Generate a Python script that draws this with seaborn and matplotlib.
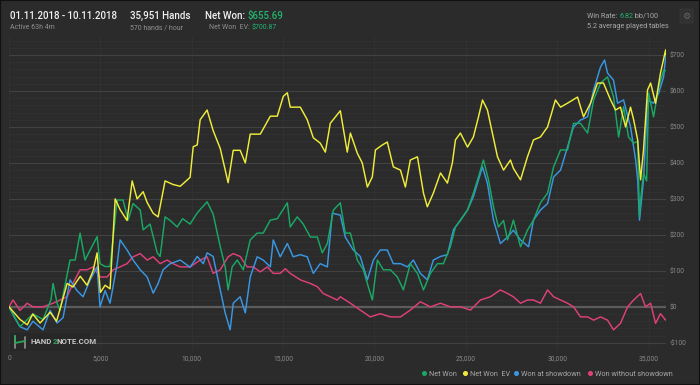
import matplotlib
matplotlib.use("Agg")
import matplotlib.pyplot as plt
import seaborn as sns
import pandas as pd
from matplotlib.ticker import FuncFormatter, MultipleLocator
from matplotlib.patches import Rectangle, FancyBboxPatch
from matplotlib.lines import Line2D
from matplotlib.text import Annotation

# ---------------- data ----------------
net_won_x = [0, 600, 1310, 1860, 2300, 2410, 2630, 2790, 3340, 3620, 3890, 4160, 4440, 4820, 4980, 5260,
             5530, 5920, 6240, 6520, 6790, 7180, 7340, 7720, 8110, 8270, 8540, 8820, 9200, 9500, 9910, 10300,
             10840, 11170, 11560, 11830, 11990, 12210, 12490, 12820, 13200, 13580, 13910, 14300, 14680, 15230,
             15390, 15770, 16100, 16490, 16870, 17140, 17420, 17750, 18130, 18400, 18680, 19060, 19390, 19660,
             19880, 20160, 20480, 20870, 21250, 21580, 21960, 22350, 22680, 23060, 23440, 23770, 24150, 24430,
             24700, 25090, 25410, 25690, 25960, 26240, 26510, 26780, 27060, 27280, 27600, 27990, 28370, 28700,
             29080, 29470, 29800, 30180, 30560, 30890, 31270, 31660, 31990, 32370, 32750, 33080, 33360, 33630,
             33900, 34180, 34400, 34500, 34560, 34720, 34890, 35000, 35270, 35550, 35820, 35951]
net_won_y = [0, -55, -20, -35, 20, 65, 10, -10, 130, 130, 205, 130, 158, 195, 120, 112,
             112, 297, 297, 241, 287, 269, 214, 230, 150, 140, 250, 240, 222, 245, 230, 261,
             292, 258, 167, 111, 47, 111, 130, 103, 186, 205, 205, 241, 245, 289,
             222, 250, 230, 194, 194, 150, 176, 269, 289, 205, 205, 130, 103, 56,
             19, 130, 103, 103, 83, 47, 120, 93, 47, 93, 120, 120, 167, 222,
             240, 269, 316, 361, 408, 353, 278, 222, 240, 186, 241, 167, 213, 241,
             289, 316, 389, 436, 436, 510, 510, 483, 575, 622, 639, 583, 472, 556,
             472, 455, 460, 250, 297, 372, 350, 594, 528, 611, 658, 656]

ev_x = [0, 600, 1000, 1300, 1700, 2250, 2600, 2800, 3180, 3500, 3900, 4270, 4600, 4820, 5000, 5260, 5530,
        5810, 6080, 6460, 6740, 7010, 7340, 7560, 7890, 8160, 8540, 8980, 9370, 9910, 10080, 10300, 10460,
        10840, 11170, 11560, 11990, 12270, 12650, 12930, 13200, 13750, 14300, 14680, 15010, 15230, 15390,
        15940, 16320, 16650, 17030, 17310, 17580, 18130, 18510, 18680, 19060, 19330, 19610, 19880, 20050,
        20430, 20700, 21030, 21420, 21690, 21960, 22350, 22680, 22890, 23220, 23610, 23990, 24260, 24430,
        24700, 25090, 25410, 25690, 25910, 26180, 26450, 26730, 27060, 27440, 27600, 27990, 28370, 28700,
        29080, 29470, 29900, 30180, 30560, 31110, 31440, 31820, 32200, 32530, 32920, 33190, 33460, 33740,
        34010, 34180, 34400, 34560, 34720, 34940, 35110, 35380, 35650, 35930, 35951]
ev_y = [0, -35, -50, -20, -45, -15, -40, -5, 65, 55, 85, 60, 100, 150, 40, 60, 50,
        300, 270, 240, 350, 300, 320, 290, 260, 250, 350, 340, 335, 360, 445, 450, 520,
        547, 490, 440, 345, 435, 435, 400, 480, 480, 530, 530, 585, 595, 555,
        555, 520, 470, 455, 430, 510, 545, 430, 483, 427, 400, 333, 361, 436,
        450, 458, 389, 380, 333, 408, 417, 316, 278, 316, 372, 344, 400, 464,
        483, 444, 472, 528, 575, 547, 483, 417, 380, 408, 385, 353, 417, 464,
        472, 500, 575, 555, 566, 583, 528, 566, 622, 622, 575, 547, 555, 500,
        555, 520, 464, 353, 436, 603, 622, 566, 650, 714, 700]

sd_x = [0, 300, 600, 990, 1310, 1860, 2250, 2630, 2960, 3340, 3720, 4050, 4440, 4820, 4980, 5260, 5530,
        5920, 6080, 6460, 6790, 7180, 7560, 7890, 8160, 8430, 8820, 9370, 9910, 10300, 10630, 10840, 11170,
        11560, 11830, 12100, 12270, 12650, 12930, 13200, 13580, 13910, 14300, 14460, 14840, 15230, 15550,
        15940, 16320, 16650, 17030, 17420, 17690, 18130, 18400, 18840, 19220, 19610, 19940, 20320, 20700,
        21030, 21420, 21800, 22130, 22510, 22890, 23220, 23610, 23990, 24320, 24700, 25090, 25410, 25690,
        25910, 26180, 26510, 26890, 27280, 27600, 27990, 28430, 28700, 29080, 29470, 29800, 30180, 30560,
        30890, 31270, 31660, 31990, 32370, 32590, 32750, 33080, 33300, 33630, 34010, 34290, 34400, 34500,
        34720, 34940, 35270, 35550, 35820, 35951]
sd_y = [0, -30, -55, -64, -40, -64, -10, -45, -30, 75, 45, 28, 75, 111, 0, 45, 10,
        120, 186, 158, 130, 103, 83, 38, 65, 103, 120, 130, 110, 140, 120, 150, 140,
        47, -17, -64, 10, 28, -17, 83, 139, 130, 111, 186, 139, 176, 139,
        145, 139, 93, 120, 111, 260, 255, 194, 158, 140, 75, 130, 158, 158,
        120, 120, 111, 130, 93, 75, 130, 140, 145, 214, 241, 269, 306, 353,
        389, 343, 241, 176, 194, 213, 186, 167, 241, 269, 287, 361, 380, 444,
        500, 519, 528, 603, 667, 686, 650, 630, 566, 575, 500, 408, 353, 241,
        353, 575, 566, 594, 639, 705]

nsd_x = [0, 220, 600, 990, 1310, 1860, 2410, 2790, 3180, 3500, 3890, 4270, 4600, 4980, 5370, 5700, 6080,
         6460, 6790, 7180, 7560, 7890, 8270, 8650, 8980, 9370, 9910, 10460, 10840, 11170, 11560, 11990,
         12270, 12650, 13030, 13360, 13750, 14130, 14460, 14840, 15120, 15390, 15940, 16490, 16870, 17200,
         17580, 17960, 18130, 18680, 19220, 19770, 20320, 20870, 21420, 21960, 22510, 23060, 23610, 24150,
         24700, 25250, 25800, 26340, 26890, 27280, 27600, 27990, 28370, 28700, 29080, 29470, 29800, 30180,
         30560, 30890, 31270, 31660, 31990, 32370, 32750, 33080, 33460, 33850, 34180, 34560, 34830, 35110,
         35380, 35650, 35930, 35951]
nsd_y = [0, 19, -10, 10, 0, 0, 10, 19, 28, 65, 103, 103, 111, 83, 83, 103, 111,
         120, 139, 148, 130, 139, 120, 130, 120, 111, 111, 130, 139, 93, 103, 139,
         148, 140, 111, 111, 97, 111, 93, 93, 106, 93, 75, 65, 56, 37,
         28, 19, 28, 10, -9, -28, -19, -28, -28, -9, 14, 0, 10, 0,
         0, -9, 19, 28, 47, 37, 28, 10, 19, 19, 10, 47, 28, 19,
         10, 0, -28, -28, -37, -28, -37, -64, -46, 0, 19, 37, 0, 10,
         -46, -19, -37, -35]

series_names = ["Net Won", "Net Won  EV", "Won at showdown", "Won without showdown"]
series_colors = ["#1aa865", "#f0ec3a", "#3a97e3", "#e0407a"]
x_ticks = [0, 5000, 10000, 15000, 20000, 25000, 30000, 35000]
y_ticks = [-100, 0, 100, 200, 300, 400, 500, 600, 700]

frames = []
for name, xs, ys in [("Won without showdown", nsd_x, nsd_y), ("Won at showdown", sd_x, sd_y),
                     ("Net Won", net_won_x, net_won_y), ("Net Won  EV", ev_x, ev_y)]:
    frames.append(pd.DataFrame({"hands": xs, "won": ys, "series": name}))
df = pd.concat(frames, ignore_index=True)

# ---------------- figure ----------------
BG = "#2b2b2b"
W, H = 700, 385
sns.set_theme(style="dark")
plt.rcParams["font.family"] = ["Roboto", "DejaVu Sans"]
fig = plt.figure(figsize=(7, 3.85), dpi=100, facecolor=BG)


def fx(x):
    return x / W


def fy(y):
    return 1 - y / H


left_px, right_px, top_px, bot_px = 9, 666, 37, 350
ax = fig.add_axes([fx(left_px), fy(bot_px), (right_px - left_px) / W, (bot_px - top_px) / H])
ax.set_facecolor(BG)

palette = dict(zip(series_names, series_colors))
sns.lineplot(data=df, x="hands", y="won", hue="series", palette=palette, estimator=None,
             sort=False, legend=False, linewidth=1.05, ax=ax, zorder=3)

ax.set_xlim(0, 35951)
ax.set_ylim(-120, 750)
ax.set_xticks(x_ticks)
ax.set_yticks(y_ticks)
ax.yaxis.set_minor_locator(MultipleLocator(20))
ax.xaxis.set_major_formatter(FuncFormatter(lambda v, p: f"{int(v):,}"))
ax.yaxis.set_major_formatter(FuncFormatter(lambda v, p: f"-${abs(int(v))}" if v < 0 else f"${int(v)}"))
ax.yaxis.tick_right()
ax.tick_params(axis="both", which="both", length=0, labelsize=4.8, labelcolor="#8a8a8a")
ax.tick_params(axis="x", pad=3.5)
ax.tick_params(axis="y", pad=2.5)
ax.set_xlabel("")
ax.set_ylabel("")
for s in ax.spines.values():
    s.set_visible(False)
ax.grid(False)
ax.grid(True, axis="y", which="major", color="#414141", linewidth=0.8, zorder=0)
ax.grid(True, axis="y", which="minor", color="#323232", linewidth=0.6, zorder=0)
ax.grid(True, axis="x", which="major", color="#333333", linewidth=0.6, zorder=0)
ax.axhline(0, color="#5c5c5c", linewidth=1.6, zorder=1)


# ---------------- header ----------------
def chain_text(x, y, parts, size, weight="normal", zorder=3):
    prev = None
    for txt, col in parts:
        if prev is None:
            prev = fig.text(fx(x), fy(y), txt, color=col, fontsize=size, fontweight=weight,
                            va="baseline", ha="left", zorder=zorder)
        else:
            prev = fig.add_artist(Annotation(
                txt, xy=(1, 0), xycoords=prev, va="bottom", ha="left", color=col,
                fontsize=size, fontweight=weight, zorder=zorder))
    return prev


GREEN = "#22b46e"
WHITE = "#f2f2f2"
GREY = "#8f8f8f"

fig.text(fx(10), fy(19), "01.11.2018 - 10.11.2018", color=WHITE, fontsize=7, fontweight="medium", va="baseline")
fig.text(fx(10), fy(29), "Active 63h 4m", color=GREY, fontsize=5, va="baseline")
fig.text(fx(130), fy(19), "35,951 Hands", color=WHITE, fontsize=7, fontweight="medium", va="baseline")
fig.text(fx(130), fy(29), "570 hands / hour", color=GREY, fontsize=5, va="baseline")
chain_text(205, 19, [("Net Won: ", WHITE), ("$655.69", GREEN)], 7, "medium")
chain_text(209, 29, [("Net Won  EV: ", GREY), ("$700.87", GREEN)], 5)
chain_text(587, 18, [("Win Rate: ", "#a8a8a8"), ("6.82", GREEN), (" bb/100", "#a8a8a8")], 5.2)
fig.text(fx(587), fy(28), "5.2 average played tables", color="#a8a8a8", fontsize=5.2, va="baseline")

# gear button
fig.add_artist(FancyBboxPatch((fx(680), fy(23)), 13 / W, 14 / H, boxstyle="round,pad=0,rounding_size=0.003",
                              transform=fig.transFigure, facecolor="#313131", edgecolor="#393939", linewidth=0.6))
fig.text(fx(686.5), fy(16), "\u2699", color="#6a6a6a", fontsize=6.5, ha="center", va="center",
         family=["DejaVu Sans"])

# ---------------- watermark ----------------
fig.add_artist(Rectangle((fx(10), fy(351)), 80 / W, 18 / H, transform=fig.transFigure,
                         facecolor="#272727", edgecolor="none", zorder=4))
fig.add_artist(Line2D([fx(15), fx(15)], [fy(336), fy(348)], color="#8a8a8a", lw=1.3, zorder=5))
fig.add_artist(Line2D([fx(15), fx(15)], [fy(336), fy(340)], color="#2aa858", lw=1.3, zorder=6))
fig.add_artist(Line2D([fx(25), fx(25)], [fy(337), fy(348)], color="#8a8a8a", lw=1.3, zorder=5))
fig.add_artist(Line2D([fx(15), fx(25)], [fy(343), fy(341)], color="#2aa858", lw=1.3, zorder=6))
chain_text(31, 344.5, [("HAND", "#c4c4c4"), ("2", "#2aa858"), ("NOTE.COM", "#c4c4c4")], 5.7, "bold", zorder=7)

# ---------------- legend ----------------
leg_items = [(424, 429), (465, 470), (516, 521), (590, 595)]
for (dx, tx), name, col in zip(leg_items, series_names, series_colors):
    fig.add_artist(Line2D([fx(dx)], [fy(373)], marker="o", markersize=2.6, color=col, linestyle="none"))
    fig.text(fx(tx), fy(375.5), name, color="#a9a9a9", fontsize=5.2, va="baseline")

# frame border
fig.add_artist(Rectangle((0, 0), 1, 1, transform=fig.transFigure, facecolor="none",
                         edgecolor="#111111", linewidth=1.5, zorder=10))

fig.savefig("out.png", dpi=100, facecolor=BG)
